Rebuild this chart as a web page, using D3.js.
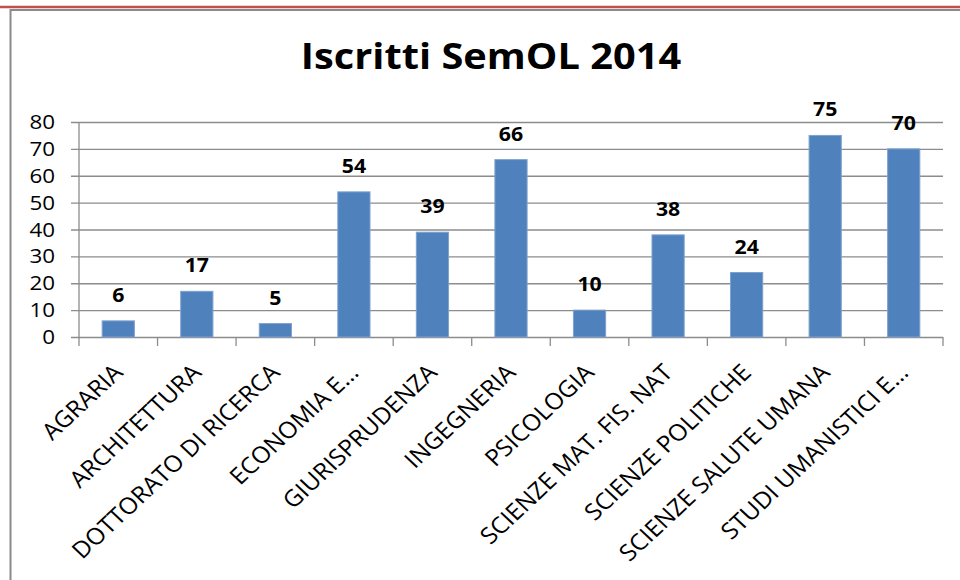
<!DOCTYPE html>
<html>
<head>
<meta charset="utf-8">
<script src="https://cdnjs.cloudflare.com/ajax/libs/d3/7.8.5/d3.min.js"></script>
<style>
  body { margin: 0; background: #fff; }
  svg { display: block; font-family: "Open Sans", sans-serif; }
</style>
</head>
<body>
<svg id="chart" width="960" height="580"></svg>
<script>
// chart data
var categories = ["AGRARIA", "ARCHITETTURA", "DOTTORATO DI RICERCA", "ECONOMIA E\u2026",
                  "GIURISPRUDENZA", "INGEGNERIA", "PSICOLOGIA", "SCIENZE MAT. FIS. NAT",
                  "SCIENZE POLITICHE", "SCIENZE SALUTE UMANA", "STUDI UMANISTICI E\u2026"];
var iscritti = [6, 17, 5, 54, 39, 66, 10, 38, 24, 75, 70];
var yTicks = [0, 10, 20, 30, 40, 50, 60, 70, 80];
var title = "Iscritti SemOL 2014";

var svg = d3.select("#chart");
var sx = 1.12;   // the picture is a bit wider than tall
var sxCat = 1.07;

var plotLeft = 79, plotRight = 943, plotTop = 122, plotBottom = 337;

var x = d3.scaleBand()
    .domain(categories)
    .range([plotLeft, plotRight])
    .paddingInner(0.59)
    .paddingOuter(0.295);

var y = d3.scaleLinear()
    .domain([0, 80])
    .range([plotBottom, plotTop]);

// frame round the chart
svg.append("line")
    .attr("x1", 0).attr("x2", 960).attr("y1", 7).attr("y2", 7)
    .style("stroke", "#c0504d").style("stroke-width", 2.5);
svg.append("path")
    .attr("d", "M960,10H10.5V580")
    .style("fill", "none").style("stroke", "#8a8a8a").style("stroke-width", 2);

// title
svg.append("text")
    .attr("transform", "translate(491,69) scale(" + sx + ",1)")
    .attr("text-anchor", "middle")
    .style("font-weight", "bold")
    .style("font-size", "35.5px")
    .style("fill", "#000")
    .text(title);

// gridlines and y axis
var yAxis = d3.axisLeft(y)
    .tickValues(yTicks)
    .tickSize(plotRight - plotLeft + 8)
    .tickPadding(0)
    .tickFormat(function(d) { return ""; });

var yg = svg.append("g")
    .attr("transform", "translate(" + plotRight + ",0)")
    .call(yAxis);
yg.select(".domain").remove();
yg.selectAll(".tick line").style("stroke", "#8c8c8c").style("stroke-width", 1.3);

svg.selectAll("text.ylab")
    .data(yTicks)
    .join("text")
    .attr("class", "ylab")
    .attr("transform", function(d) { return "translate(55," + (y(d) + 7) + ") scale(" + sx + ",1)"; })
    .attr("text-anchor", "end")
    .style("font-size", "20px")
    .style("fill", "#000")
    .text(function(d) { return d; });

svg.append("line")
    .attr("x1", plotLeft).attr("x2", plotLeft).attr("y1", plotTop).attr("y2", plotBottom)
    .style("stroke", "#8c8c8c").style("stroke-width", 1.3);

// category ticks under the axis
var bounds = categories.map(function(c) { return x(c) - x.step() * x.paddingInner() / 2; });
bounds.push(plotRight);
svg.selectAll("line.xtick")
    .data(bounds)
    .join("line")
    .attr("class", "xtick")
    .attr("x1", function(d) { return d; })
    .attr("x2", function(d) { return d; })
    .attr("y1", plotBottom)
    .attr("y2", plotBottom + 9)
    .style("stroke", "#8c8c8c")
    .style("stroke-width", 1.3);

// bars
svg.selectAll("rect.bar")
    .data(iscritti)
    .join("rect")
    .attr("class", "bar")
    .attr("x", function(d, i) { return x(categories[i]); })
    .attr("y", function(d) { return y(d); })
    .attr("width", x.bandwidth())
    .attr("height", function(d) { return y(0) - y(d); })
    .style("fill", "#4f81bd")
    .style("stroke", "#7ea2cf")
    .style("stroke-width", 1);

// value labels
svg.selectAll("text.val")
    .data(iscritti)
    .join("text")
    .attr("class", "val")
    .attr("transform", function(d, i) {
        return "translate(" + (x(categories[i]) + x.bandwidth() / 2) + "," + (y(d) - 19) + ") scale(" + sx + ",1)";
    })
    .attr("text-anchor", "middle")
    .style("font-weight", "bold")
    .style("font-size", "19px")
    .style("fill", "#000")
    .text(function(d) { return d; });

// category labels, turned
svg.selectAll("text.cat")
    .data(categories)
    .join("text")
    .attr("class", "cat")
    .attr("transform", function(d) {
        return "translate(" + (x(d) + x.bandwidth() / 2 + 6) + "," + (plotBottom + 37) + ") scale(" + sxCat + ",1) rotate(-45)";
    })
    .attr("text-anchor", "end")
    .style("font-size", "23px")
    .style("fill", "#000")
    .text(function(d) { return d; });
</script>
</body>
</html>
